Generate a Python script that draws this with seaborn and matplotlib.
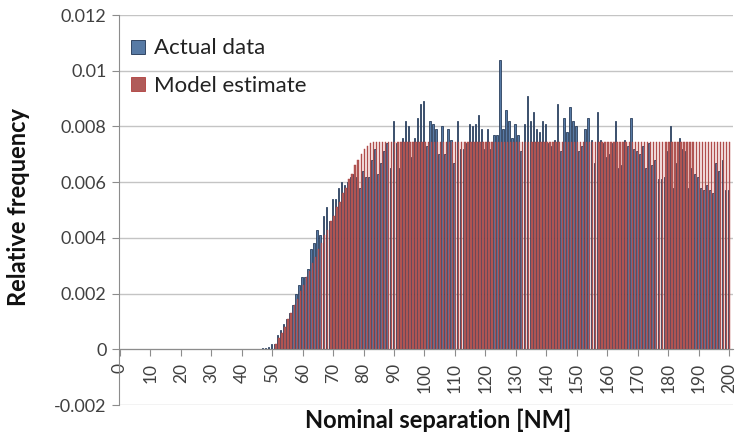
import matplotlib
matplotlib.use("Agg")
import matplotlib.pyplot as plt
import seaborn as sns
import pandas as pd

# ---------------- data ----------------
separation_nm = list(range(0, 201))

actual_data = [
    # 0-46
    0, 0, 0, 0, 0, 0, 0, 0, 0, 0,
    0, 0, 0, 0, 0, 0, 0, 0, 0, 0,
    0, 0, 0, 0, 0, 0, 0, 0, 0, 0,
    0, 0, 0, 0, 0, 0, 0, 0, 0, 0,
    0, 0, 0, 0, 0, 0, 0,
    # 47-59
    0.00003, 0.00005, 0.0001, 0.0002, 0.0002, 0.0005, 0.0007, 0.0009, 0.0011, 0.0013,
    0.0016, 0.0020, 0.0023,
    # 60-69
    0.0026, 0.0026, 0.0029, 0.0036, 0.0038, 0.0043, 0.0041, 0.0048, 0.0051, 0.0046,
    # 70-79
    0.0054, 0.0054, 0.0058, 0.0060, 0.0059, 0.0060, 0.0062, 0.0063, 0.0062, 0.0058,
    # 80-89
    0.0064, 0.0062, 0.0062, 0.0068, 0.0072, 0.0063, 0.0067, 0.0071, 0.0074, 0.0065,
    # 90-99
    0.0082, 0.0074, 0.0065, 0.0076, 0.0082, 0.0080, 0.0069, 0.0076, 0.0083, 0.0088,
    # 100-109
    0.0089, 0.0073, 0.0082, 0.0081, 0.0079, 0.0070, 0.0080, 0.0070, 0.0079, 0.0075,
    # 110-119
    0.0067, 0.0082, 0.0072, 0.0072, 0.0074, 0.0081, 0.0080, 0.0081, 0.0084, 0.0079,
    # 120-129
    0.0072, 0.0079, 0.0072, 0.0077, 0.0077, 0.0104, 0.0079, 0.0086, 0.0082, 0.0076,
    # 130-139
    0.0081, 0.0077, 0.0071, 0.0081, 0.0091, 0.0082, 0.0085, 0.0079, 0.0078, 0.0082,
    # 140-149
    0.0081, 0.0074, 0.0073, 0.0075, 0.0088, 0.0071, 0.0083, 0.0078, 0.0087, 0.0082,
    # 150-159
    0.0080, 0.0071, 0.0073, 0.0079, 0.0083, 0.0075, 0.0067, 0.0085, 0.0075, 0.0074,
    # 160-169
    0.0069, 0.0070, 0.0074, 0.0082, 0.0065, 0.0066, 0.0075, 0.0073, 0.0083, 0.0072,
    # 170-179
    0.0071, 0.0070, 0.0073, 0.0065, 0.0074, 0.0066, 0.0068, 0.0061, 0.0061, 0.0062,
    # 180-189
    0.0071, 0.0080, 0.0058, 0.0067, 0.0076, 0.0072, 0.0071, 0.0058, 0.0065, 0.0063,
    # 190-200
    0.0062, 0.0058, 0.0057, 0.0059, 0.0057, 0.0056, 0.0067, 0.0064, 0.0068, 0.0057,
    0.0057,
]

model_estimate = [
    # 0-50
    0, 0, 0, 0, 0, 0, 0, 0, 0, 0,
    0, 0, 0, 0, 0, 0, 0, 0, 0, 0,
    0, 0, 0, 0, 0, 0, 0, 0, 0, 0,
    0, 0, 0, 0, 0, 0, 0, 0, 0, 0,
    0, 0, 0, 0, 0, 0, 0, 0, 0, 0,
    0,
    # 51-60
    0.0002, 0.0004, 0.0006, 0.0008, 0.0011, 0.0013, 0.0016, 0.0018, 0.0021, 0.0023,
    # 61-70
    0.0026, 0.0028, 0.0031, 0.0033, 0.0036, 0.0038, 0.0041, 0.0043, 0.0046, 0.0048,
    # 71-80
    0.0051, 0.0053, 0.0056, 0.0058, 0.0061, 0.0063, 0.0066, 0.0068, 0.0070, 0.0072,
    # 81-90
    0.0073, 0.0074, 0.00745, 0.00745, 0.00745, 0.00745, 0.00745, 0.00745, 0.00745, 0.00745,
    # 91-100
    0.00745, 0.00745, 0.00745, 0.00745, 0.00745, 0.00745, 0.00745, 0.00745, 0.00745, 0.00745,
    # 101-110
    0.00745, 0.00745, 0.00745, 0.00745, 0.00745, 0.00745, 0.00745, 0.00745, 0.00745, 0.00745,
    # 111-120
    0.00745, 0.00745, 0.00745, 0.00745, 0.00745, 0.00745, 0.00745, 0.00745, 0.00745, 0.00745,
    # 121-130
    0.00745, 0.00745, 0.00745, 0.00745, 0.00745, 0.00745, 0.00745, 0.00745, 0.00745, 0.00745,
    # 131-140
    0.00745, 0.00745, 0.00745, 0.00745, 0.00745, 0.00745, 0.00745, 0.00745, 0.00745, 0.00745,
    # 141-150
    0.00745, 0.00745, 0.00745, 0.00745, 0.00745, 0.00745, 0.00745, 0.00745, 0.00745, 0.00745,
    # 151-160
    0.00745, 0.00745, 0.00745, 0.00745, 0.00745, 0.00745, 0.00745, 0.00745, 0.00745, 0.00745,
    # 161-170
    0.00745, 0.00745, 0.00745, 0.00745, 0.00745, 0.00745, 0.00745, 0.00745, 0.00745, 0.00745,
    # 171-180
    0.00745, 0.00745, 0.00745, 0.00745, 0.00745, 0.00745, 0.00745, 0.00745, 0.00745, 0.00745,
    # 181-190
    0.00745, 0.00745, 0.00745, 0.00745, 0.00745, 0.00745, 0.00745, 0.00745, 0.00745, 0.00745,
    # 191-200
    0.00745, 0.00745, 0.00745, 0.00745, 0.00745, 0.00745, 0.00745, 0.00745, 0.00745, 0.00745,
]

series_names = ["Actual data", "Model estimate"]
x_tick_values = [0, 10, 20, 30, 40, 50, 60, 70, 80, 90, 100,
                 110, 120, 130, 140, 150, 160, 170, 180, 190, 200]
x_tick_labels = ["0", "10", "20", "30", "40", "50", "60", "70", "80", "90", "100",
                 "110", "120", "130", "140", "150", "160", "170", "180", "190", "200"]
y_tick_values = [-0.002, 0, 0.002, 0.004, 0.006, 0.008, 0.01, 0.012]
y_tick_labels = ["-0.002", "0", "0.002", "0.004", "0.006", "0.008", "0.01", "0.012"]

# ---------------- style ----------------
sns.set_style("white")
plt.rcParams["font.family"] = ["Lato", "DejaVu Sans"]

BLUE = "#4A78B2"
BLUE_EDGE = "#1F3352"
RED = "#BE4D4A"
RED_EDGE = "#B03E3B"
GRID = "#C4C4C4"
AXIS = "#8C8C8C"
TXT = "#404040"

df = pd.DataFrame({
    "sep": separation_nm * 2,
    "value": actual_data + model_estimate,
    "series": [series_names[0]] * len(separation_nm) + [series_names[1]] * len(separation_nm),
})

fig = plt.figure(figsize=(7.38, 4.36), dpi=100)
ax = fig.add_axes([119 / 738, 1 - 405 / 436, 614 / 738, 390 / 436])

sns.barplot(data=df, x="sep", y="value", hue="series", hue_order=series_names,
            palette=[BLUE, RED], width=0.95, gap=0, errorbar=None,
            linewidth=0.5, ax=ax)

for cont, ec, lw in zip(ax.containers, [BLUE_EDGE, RED_EDGE], [0.55, 0.3]):
    for p in cont.patches:
        p.set_edgecolor(ec)
        p.set_linewidth(lw if p.get_height() > 0 else 0)

ax.set_xlim(-0.3, 201.3)
ax.set_ylim(-0.002, 0.012)
ax.set_yticks(y_tick_values)
ax.set_yticklabels(y_tick_labels)
ax.set_xticks(x_tick_values)
ax.set_xticklabels(x_tick_labels)

ax.yaxis.grid(True, color=GRID, linewidth=1.0)
ax.xaxis.grid(False)
ax.set_axisbelow(True)

for s in ["top", "right"]:
    ax.spines[s].set_visible(False)
ax.spines["left"].set_color(AXIS)
ax.spines["bottom"].set_color(AXIS)
ax.spines["bottom"].set_position(("data", 0))
ax.spines["bottom"].set_zorder(5)

ax.tick_params(axis="y", which="both", left=True, length=5, width=0.8, color=AXIS,
               labelsize=13, labelcolor=TXT, pad=4)
ax.tick_params(axis="x", which="both", bottom=True, length=5, width=0.8, color=AXIS,
               labelsize=12.5, labelcolor=TXT, pad=5, labelrotation=90)

ax.set_xlabel("")
ax.set_ylabel("")
fig.text(438 / 738, 1 - 420 / 436, "Nominal separation [NM]", ha="center", va="center",
         fontsize=17, fontweight="bold", color="#111111")
fig.text(19 / 738, 1 - 207 / 436, "Relative frequency", ha="center", va="center",
         rotation=90, fontsize=17, fontweight="bold", color="#111111")

handles, labels = ax.get_legend_handles_labels()
for h, ec in zip(handles, [BLUE_EDGE, RED_EDGE]):
    h.set_edgecolor(ec)
    h.set_linewidth(0.6)
leg = ax.legend(handles, labels, loc="upper left", bbox_to_anchor=(0.02, 0.94),
                frameon=False, fontsize=16, handlelength=0.6, handleheight=0.6,
                handletextpad=0.4, labelspacing=0.8, borderaxespad=0, borderpad=0)
for t in leg.get_texts():
    t.set_color("#222222")

fig.savefig("out.png", dpi=100)
